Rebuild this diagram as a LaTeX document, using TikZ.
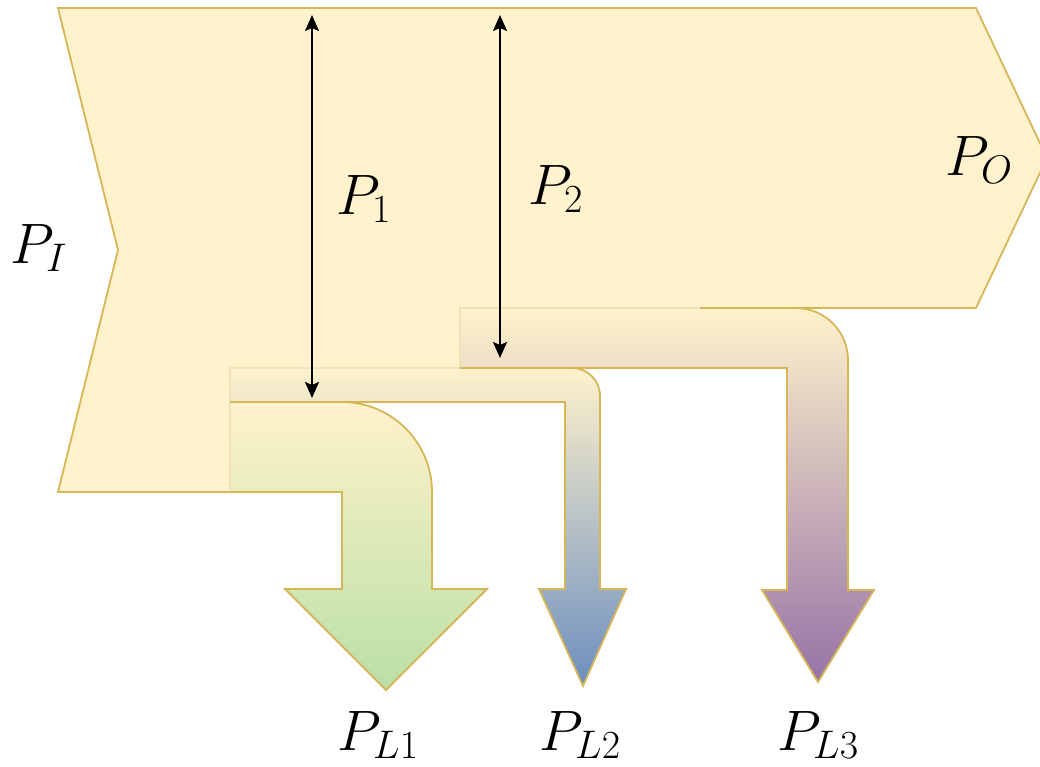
\RequirePackage{fix-cm}
\documentclass[tikz,border=0pt]{standalone}
\usetikzlibrary{arrows.meta}
\definecolor{yfill}{HTML}{FFF2CC}
\definecolor{ystroke}{HTML}{D6B656}
\definecolor{yfaint}{HTML}{F0E2B6}
\definecolor{gend}{HTML}{B9E0A5}
\definecolor{bend}{HTML}{6C8EBF}
\definecolor{pend}{HTML}{9673A6}
\tikzset{
  strong/.style={draw=ystroke, line width=1.8pt, line join=miter},
  faint/.style={draw=yfaint, line width=1.2pt},
  dbl/.style={line width=1.9pt, {Stealth[length=16pt,width=14pt,inset=3pt]}-{Stealth[length=16pt,width=14pt,inset=3pt]}},
  lbl/.style={inner sep=0pt, anchor=base west, font=\fontsize{57}{62}\selectfont}
}
\begin{document}
\begin{tikzpicture}[x=1pt,y=-1pt]
\useasboundingbox (0,0) rectangle (1040,766);
\clip (0,0) rectangle (1040,766);
% main body
\fill[yfill] (58,8) -- (976,8) -- (1047,158) -- (976,308) -- (460,308) -- (460,368) -- (230,368) -- (230,492) -- (58,492) -- (118,250) -- cycle;
\draw[strong] (700,308) -- (976,308) -- (1047,158) -- (976,8) -- (58,8) -- (118,250) -- (58,492) -- (230,492);
% green band
\shade[top color=yfill, bottom color=gend] (230,402) -- (342,402) .. controls (391.7,402) and (432,442.3) .. (432,492) -- (432,589) -- (487,589) -- (386,690) -- (285,589) -- (342,589) -- (342,492) -- (230,492) -- cycle;
\draw[faint] (230,402) -- (230,492);
\draw[strong] (230,402) -- (342,402) .. controls (391.7,402) and (432,442.3) .. (432,492) -- (432,589) -- (487,589) -- (386,690) -- (285,589) -- (342,589) -- (342,492) -- (230,492);
% blue band
\shade[top color=yfill, bottom color=bend] (230,368) -- (572,368) .. controls (587.5,368) and (600,380.5) .. (600,396) -- (600,589) -- (626,589) -- (583,686) -- (539,589) -- (565,589) -- (565,402) -- (230,402) -- cycle;
\draw[faint] (230,402) -- (230,368) -- (572,368);
\draw[strong] (460,368) -- (572,368) .. controls (587.5,368) and (600,380.5) .. (600,396) -- (600,589) -- (626,589) -- (583,686) -- (539,589) -- (565,589) -- (565,402) -- (230,402);
% purple band
\shade[top color=yfill, bottom color=pend] (460,308) -- (796,308) .. controls (824.7,308) and (848,331.3) .. (848,360) -- (848,590) -- (874,590) -- (818,682) -- (762,590) -- (787,590) -- (787,368) -- (460,368) -- cycle;
\draw[faint] (460,368) -- (460,308) -- (700,308);
\draw[strong] (700,308) -- (796,308) .. controls (824.7,308) and (848,331.3) .. (848,360) -- (848,590) -- (874,590) -- (818,682) -- (762,590) -- (787,590) -- (787,368) -- (460,368);
% dimension arrows
\coordinate (a1t) at (312,15);
\coordinate (a1b) at (312,398);
\coordinate (a2t) at (500,15);
\coordinate (a2b) at (500,358);
\draw[dbl] (a1t) -- (a1b);
\draw[dbl] (a2t) -- (a2b);
% labels
\node[lbl] (pi) at (10,263) {$P_I$};
\node[lbl] (p1) at (336,214) {$P_1$};
\node[lbl] (p2) at (528,204) {$P_2$};
\node[lbl] (po) at (945,175) {$P_O$};
\node[lbl] (pl1) at (337,750) {$P_{L1}$};
\node[lbl] (pl2) at (539,750) {$P_{L2}$};
\node[lbl] (pl3) at (777,750) {$P_{L3}$};
\end{tikzpicture}
\end{document}
